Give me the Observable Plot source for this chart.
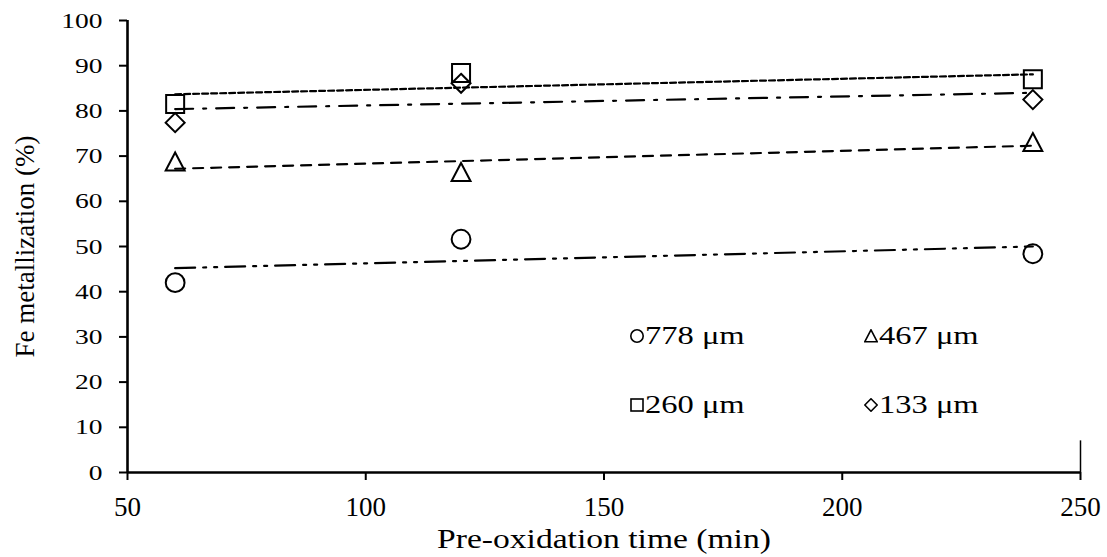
<!DOCTYPE html>
<html>
<head>
<meta charset="utf-8">
<script src="https://cdn.jsdelivr.net/npm/d3@7"></script>
<script src="https://cdn.jsdelivr.net/npm/@observablehq/plot@0.6"></script>
<style>
  html, body { margin: 0; padding: 0; background: #fff; }
  #wrap { position: relative; width: 1107px; height: 557px; font-family: "Liberation Serif", "Times New Roman", serif; }
  #wrap svg { display: block; }
  g[aria-label^="x-axis"] text { font-size: 27px !important; }
  g[aria-label^="y-axis"] text { font-size: 22px !important; }
  g[aria-label^="x-axis"] :is(line, path), g[aria-label^="y-axis"] :is(line, path) { stroke-width: 2px; stroke: #000; }
  .legend-item { position: absolute; display: flex; align-items: center; height: 30px; font-size: 26px; color: #000; white-space: nowrap; }
  .legend-item svg { flex: none; }
  .legend-item span { display: inline-block; transform: scaleX(1.25); transform-origin: left center; margin-left: 1px; }
</style>
</head>
<body>
<div id="wrap"></div>
<script>
// Pre-oxidation times (min) and Fe metallization (%) for each particle size
const times = [60, 120, 240];
const sizes = ["778 μm", "467 μm", "260 μm", "133 μm"];
const met778 = [42.0, 51.6, 48.4];
const met467 = [68.8, 66.5, 73.1];
const met260 = [81.5, 88.4, 87.0];
const met133 = [77.4, 86.1, 82.5];
const xTicks = [50, 100, 150, 200, 250];
const yTicks = [0, 10, 20, 30, 40, 50, 60, 70, 80, 90, 100];
const xTitle = "Pre-oxidation time (min)";
const yTitle = "Fe metallization (%)";

// Hollow marker shapes, sized from the mark radius
const shapes = {
  circle: {draw(ctx, size) { const r = Math.sqrt(size / Math.PI); ctx.moveTo(r, 0); ctx.arc(0, 0, r, 0, 2 * Math.PI); }},
  square: {draw(ctx, size) { const r = Math.sqrt(size / Math.PI); ctx.rect(-r, -r, 2 * r, 2 * r); }},
  triangle: {draw(ctx, size) { const r = Math.sqrt(size / Math.PI); ctx.moveTo(0, -r); ctx.lineTo(r * 1.05, r); ctx.lineTo(-r * 1.05, r); ctx.closePath(); }},
  diamond: {draw(ctx, size) { const r = Math.sqrt(size / Math.PI); ctx.moveTo(0, -r); ctx.lineTo(r, 0); ctx.lineTo(0, r); ctx.lineTo(-r, 0); ctx.closePath(); }}
};

const series = [
  {name: sizes[0], values: met778, symbol: "circle", r: 9.4, dash: "20,8,3,8,3,8"},
  {name: sizes[1], values: met467, symbol: "triangle", r: 9, dash: "10,8"},
  {name: sizes[2], values: met260, symbol: "square", r: 9, dash: "6,3"},
  {name: sizes[3], values: met133, symbol: "diamond", r: 9.5, dash: "18,10,3,10"}
];

const rows = s => times.map((t, i) => ({time: t, value: s.values[i], size: s.name}));

const marks = [];
// Least-squares trend line for each size
for (const s of series) {
  marks.push(Plot.linearRegressionY(rows(s), {
    x: "time", y: "value", ci: 0, stroke: "#000", strokeWidth: 2.2, strokeDasharray: s.dash
  }));
}
for (const s of series) {
  marks.push(Plot.dot(rows(s), {
    x: "time", y: "value", r: s.r, symbol: shapes[s.symbol], fill: "none", stroke: "#000", strokeWidth: 2
  }));
}
// Axis lines
marks.push(Plot.ruleY([0], {stroke: "#000", strokeWidth: 2.6}));
marks.push(Plot.ruleX([50], {stroke: "#000", strokeWidth: 2.6}));
marks.push(Plot.ruleX([250], {y1: 0, y2: 7, stroke: "#000", strokeWidth: 1.5}));
// Axis titles
marks.push(Plot.text([xTitle], {
  frameAnchor: "bottom", textAnchor: "middle", lineAnchor: "middle", dy: 67, fontSize: 28, fill: "#000"
}));
marks.push(Plot.text([yTitle], {
  frameAnchor: "left", textAnchor: "middle", lineAnchor: "middle", dx: -102, rotate: -90, fontSize: 27, fill: "#000"
}));

const plot = Plot.plot({
  width: 1107,
  height: 557,
  marginLeft: 127,
  marginRight: 27,
  marginTop: 20,
  marginBottom: 85,
  style: {fontFamily: "'Liberation Serif', 'Times New Roman', serif", fontSize: "22px", color: "#000", background: "#fff", overflow: "visible"},
  x: {domain: [50, 250], ticks: xTicks, tickSize: 8, tickPadding: 16, label: null},
  y: {domain: [0, 100], ticks: yTicks, tickSize: 8, tickPadding: 17, label: null},
  marks
});

const wrap = document.getElementById("wrap");
wrap.appendChild(plot);

// Widen a text horizontally about one of its edges (or its centre)
function widen(t, sx, anchor) {
  const r = t.getBoundingClientRect();
  const ax = anchor === "end" ? r.right : anchor === "start" ? r.left : (r.left + r.right) / 2;
  const ay = (r.top + r.bottom) / 2;
  const parent = t.parentNode;
  const p = new DOMPoint(ax, ay).matrixTransform(parent.getScreenCTM().inverse());
  const g = document.createElementNS("http://www.w3.org/2000/svg", "g");
  g.setAttribute("transform", `translate(${p.x},${p.y}) scale(${sx},1) translate(${-p.x},${-p.y})`);
  parent.insertBefore(g, t);
  g.appendChild(t);
}
const wrapBox = wrap.getBoundingClientRect();
plot.querySelectorAll("text").forEach(t => {
  const s = t.textContent.trim();
  const r = t.getBoundingClientRect();
  if (/^\d+$/.test(s) && r.right - wrapBox.left < 127) widen(t, 1.25, "end");
  else if (s === xTitle) widen(t, 1.2, "middle");
});

// Legend: two columns, two rows inside the plot area
const legendSymbols = {
  circle: '<circle cx="7" cy="7" r="6.2" fill="none" stroke="#000" stroke-width="1.6"/>',
  triangle: '<path d="M7,0.8 L13.3,12.8 L0.7,12.8 Z" fill="none" stroke="#000" stroke-width="1.6"/>',
  square: '<rect x="1" y="1" width="12" height="12" fill="none" stroke="#000" stroke-width="1.6"/>',
  diamond: '<path d="M7,0.8 L13.2,7 L7,13.2 L0.8,7 Z" fill="none" stroke="#000" stroke-width="1.6"/>'
};
const legendPos = [
  {left: 630, top: 321},
  {left: 864, top: 321},
  {left: 630, top: 390},
  {left: 864, top: 390}
];
series.forEach((s, i) => {
  const item = document.createElement("div");
  item.className = "legend-item";
  item.style.left = legendPos[i].left + "px";
  item.style.top = legendPos[i].top + "px";
  item.innerHTML = `<svg width="14" height="14" viewBox="0 0 14 14">${legendSymbols[s.symbol]}</svg><span>${s.name}</span>`;
  wrap.appendChild(item);
});
</script>
</body>
</html>
